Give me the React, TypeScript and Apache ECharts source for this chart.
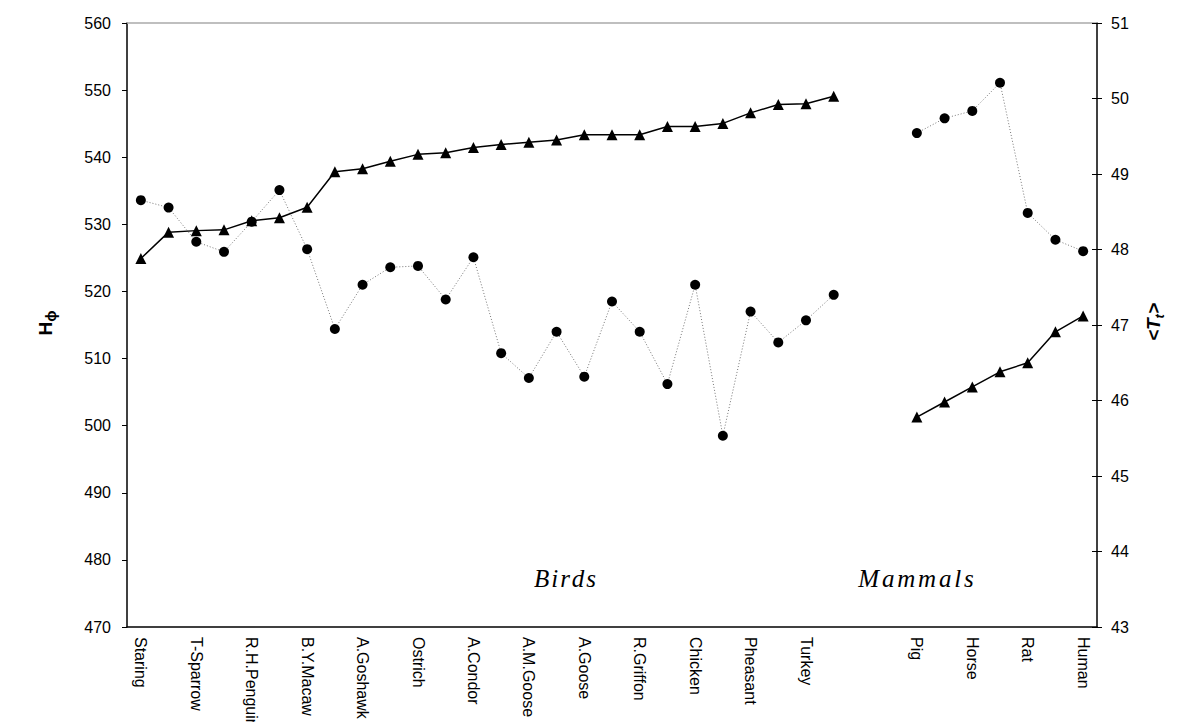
import React, { useEffect, useRef } from "react";
import * as echarts from "echarts";

const categories: string[] = [
  "Staring", "", "T-Sparrow", "", "R.H.Penguin", "", "B.Y.Macaw", "", "A.Goshawk", "",
  "Ostrich", "", "A.Condor", "", "A.M.Goose", "", "A.Goose", "", "R.Griffon", "",
  "Chicken", "", "Pheasant", "", "Turkey", "", "", "", "Pig", "", "Horse", "", "Rat", "", "Human",
];

// H_phi (left axis), circles
const hPhi: (number | null)[] = [
  533.6, 532.5, 527.4, 525.9, 530.4, 535.1, 526.3, 514.4, 521.0, 523.6,
  523.8, 518.8, 525.1, 510.8, 507.1, 514.0, 507.3, 518.5, 514.0, 506.2,
  521.0, 498.5, 517.0, 512.4, 515.7, 519.5, null, null,
  543.6, 545.8, 546.9, 551.1, 531.7, 527.7, 526.0,
];

// <T_t> (right axis), triangles
const tT: (number | null)[] = [
  47.88, 48.23, 48.25, 48.26, 48.38, 48.42, 48.56, 49.03, 49.07, 49.17,
  49.26, 49.28, 49.35, 49.39, 49.42, 49.45, 49.52, 49.52, 49.52, 49.63,
  49.63, 49.67, 49.81, 49.92, 49.93, 50.03, null, null,
  45.78, 45.98, 46.18, 46.38, 46.50, 46.91, 47.12,
];

const SANS = "Liberation Sans, Arial, sans-serif";
const SERIF = "Liberation Serif, Times New Roman, serif";

function spaced(word: string): string {
  return word.split("").map((c) => "{l|" + c + "}").join("");
}

export default function App() {
  const ref = useRef<HTMLDivElement>(null);
  useEffect(() => {
    if (!ref.current) return;
    const chart = echarts.init(ref.current, undefined, { renderer: "svg" });
    chart.setOption({
      animation: false,
      backgroundColor: "#fff",
      grid: {
        left: 127, top: 23, right: 82, bottom: 95,
        containLabel: false, outerBoundsMode: "none",
      },
      xAxis: [
        {
          type: "category",
          data: categories,
          position: "bottom",
          boundaryGap: true,
          axisLine: { lineStyle: { color: "#000", width: 1.5 } },
          axisTick: { interval: 0, length: 5, lineStyle: { color: "#000" } },
          axisLabel: {
            interval: 0, rotate: -90, margin: 10,
            color: "#000", fontSize: 16, fontFamily: SANS,
          },
          splitLine: { show: false },
        },
        {
          type: "category",
          data: categories,
          position: "top",
          axisLine: { lineStyle: { color: "#aaa", width: 1.5 } },
          axisTick: { show: false },
          axisLabel: { show: false },
        },
      ],
      yAxis: [
        {
          type: "value", min: 470, max: 560, interval: 10, position: "left",
          axisLine: { show: true, lineStyle: { color: "#000", width: 1.5 } },
          axisTick: { show: true, length: 5, lineStyle: { color: "#000" } },
          axisLabel: { color: "#000", fontSize: 16, fontFamily: SANS, margin: 16 },
          splitLine: { show: false },
        },
        {
          type: "value", min: 43, max: 51, interval: 1, position: "right",
          axisLine: { show: true, lineStyle: { color: "#000", width: 1.5 } },
          axisTick: { show: true, length: 5, lineStyle: { color: "#000" } },
          axisLabel: { color: "#000", fontSize: 16, fontFamily: SANS, margin: 14 },
          splitLine: { show: false },
        },
        {
          type: "value", min: 43, max: 51, interval: 1, position: "right",
          axisLine: { show: false },
          axisTick: { show: true, inside: true, length: 5, lineStyle: { color: "#000" } },
          axisLabel: { show: false },
          splitLine: { show: false },
        },
      ],
      series: [
        {
          type: "line",
          name: "Hphi",
          data: hPhi,
          yAxisIndex: 0,
          symbol: "circle",
          symbolSize: 10,
          showAllSymbol: true,
          connectNulls: false,
          itemStyle: { color: "#000" },
          lineStyle: { color: "#777", width: 1, type: [1, 2] },
          z: 3,
        },
        {
          type: "line",
          name: "Tt",
          data: tT,
          yAxisIndex: 1,
          symbol: "triangle",
          symbolSize: 11,
          showAllSymbol: true,
          connectNulls: false,
          itemStyle: { color: "#000" },
          lineStyle: { color: "#000", width: 1.5 },
          z: 4,
        },
      ],
      graphic: [
        {
          type: "text", x: 45, y: 323, rotation: Math.PI / 2,
          style: {
            text: "{a|H}{b|ϕ}",
            textAlign: "center", textVerticalAlign: "middle",
            fill: "#000",
            rich: {
              a: { fontSize: 19, fontWeight: "bold", fontFamily: SANS, lineHeight: 26, verticalAlign: "middle" },
              b: { fontSize: 15, fontWeight: "bold", fontFamily: SANS, lineHeight: 16, verticalAlign: "bottom" },
            },
          },
        },
        {
          type: "text", x: 1153, y: 322, rotation: Math.PI / 2,
          style: {
            text: "{a|<T}{b|t}{a|>}",
            textAlign: "center", textVerticalAlign: "middle",
            fill: "#000",
            rich: {
              a: { fontSize: 19, fontWeight: "bold", fontStyle: "italic", fontFamily: SANS, lineHeight: 26, verticalAlign: "middle" },
              b: { fontSize: 13, fontWeight: "bold", fontStyle: "italic", fontFamily: SANS, lineHeight: 14, verticalAlign: "bottom" },
            },
          },
        },
        {
          type: "text", x: 565, y: 578,
          style: {
            text: spaced("Birds"), fill: "#000",
            textAlign: "center", textVerticalAlign: "middle",
            rich: {
              l: { fontSize: 25, fontStyle: "italic", fontFamily: SERIF, padding: [0, 1, 0, 1] },
            },
          },
        },
        {
          type: "text", x: 916, y: 578,
          style: {
            text: spaced("Mammals"), fill: "#000",
            textAlign: "center", textVerticalAlign: "middle",
            rich: {
              l: { fontSize: 25, fontStyle: "italic", fontFamily: SERIF, padding: [0, 1.4, 0, 1.4] },
            },
          },
        },
      ],
    });
    return () => chart.dispose();
  }, []);
  return (
    <div
      ref={ref}
      style={{ position: "absolute", left: 0, top: 0, width: 1179, height: 722 }}
    />
  );
}
